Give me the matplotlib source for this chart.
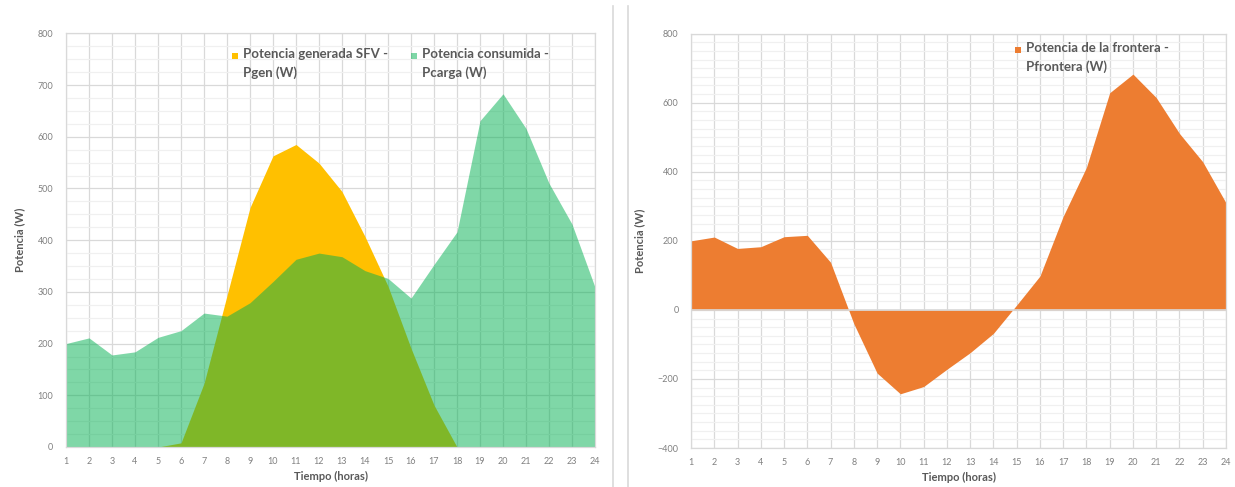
import matplotlib
matplotlib.use("Agg")
import matplotlib.pyplot as plt
from matplotlib.patches import Rectangle
from matplotlib.lines import Line2D
from matplotlib.ticker import MultipleLocator

plt.rcParams['font.family'] = ['Lato', 'DejaVu Sans']

horas = list(range(1, 25))
p_gen = [0, 0, 0, 0, 0, 8, 123, 293, 463, 563, 585, 549, 494, 407, 311, 191, 81, 0,
         0, 0, 0, 0, 0, 0]
p_carga = [200, 211, 178, 184, 212, 225, 259, 253, 279, 320, 363, 375, 368, 341, 326,
           288, 353, 416, 631, 683, 616, 510, 431, 309]
p_frontera = [200, 211, 178, 183, 212, 216, 138, -40, -183, -243, -222, -172, -124,
              -68, 14, 98, 271, 413, 629, 683, 615, 511, 429, 310]

label_gen = "Potencia generada SFV -\nPgen (W)"
label_carga = "Potencia consumida -\nPcarga (W)"
label_front = "Potencia de la frontera -\nPfrontera (W)"
xlabel = "Tiempo (horas)"
ylabel = "Potencia (W)"

C_GEN = "#FFC000"
C_CARGA = "#00B050"
C_FRONT = "#ED7D31"
GRID = "#D9D9D9"
MINOR = "#F0F0F0"
TICK = "#808080"
TXT = "#595959"

W, H = 1235, 487
fig = plt.figure(figsize=(W / 100, H / 100), dpi=100)


def style(ax, ylo, yhi, ylabelpad):
    ax.set_xlim(1, 24)
    ax.set_ylim(ylo, yhi)
    ax.set_xticks(horas)
    ax.yaxis.set_major_locator(MultipleLocator(100 if yhi - ylo <= 800 else 200))
    ax.yaxis.set_minor_locator(MultipleLocator(25))
    ax.set_axisbelow(True)
    ax.grid(True, which='major', axis='both', color=GRID, lw=0.9)
    ax.grid(True, which='minor', axis='y', color=MINOR, lw=0.9)
    for s in ax.spines.values():
        s.set_color(GRID)
        s.set_linewidth(0.9)
    ax.tick_params(which='both', length=0, colors=TICK, labelsize=6.5)
    ax.tick_params(axis='y', pad=9)
    ax.tick_params(axis='x', pad=7)
    ax.set_xlabel(xlabel, fontsize=8, fontweight='bold', color=TXT, labelpad=4)
    ax.set_ylabel(ylabel, fontsize=8, fontweight='bold', color=TXT, labelpad=ylabelpad)


def legend_entry(xpx, ypx, color, text, alpha=1.0):
    # xpx, ypx: figure pixel positions (from top-left) of square left / first line centre
    fx = xpx / W
    fy = 1 - ypx / H
    fig.add_artist(Rectangle((fx, fy - 3 / H), 6 / W, 6 / H, transform=fig.transFigure,
                             facecolor=color, alpha=alpha, edgecolor='none'))
    fig.text(fx + 11 / W, fy + 8.5 / H, text, ha='left', va='top', fontsize=9.5,
             fontweight='bold', color=TXT, linespacing=1.6)


# Left chart
ax1 = fig.add_axes([66 / W, 40 / H, 529 / W, 413.7 / H])
style(ax1, 0, 800, 9)
ax1.fill_between(horas, 0, p_gen, color=C_GEN, lw=0)
ax1.fill_between(horas, 0, p_carga, color=C_CARGA, alpha=0.5, lw=0)
legend_entry(232, 56, C_GEN, label_gen)
legend_entry(411, 56, C_CARGA, label_carga, alpha=0.5)

# Right chart
ax2 = fig.add_axes([691 / W, 39 / H, 535 / W, 414.3 / H])
style(ax2, -400, 800, 9)
ax2.fill_between(horas, 0, p_frontera, color=C_FRONT, lw=0)
ax2.axhline(0, color=GRID, lw=1.2, zorder=3)
legend_entry(1015, 50, C_FRONT, label_front)

# panel borders
for xp in (613, 628):
    fig.add_artist(Line2D([xp / W, xp / W], [0, 1 - 6 / H], transform=fig.transFigure,
                          color=GRID, lw=1.2))

fig.savefig("out.png", dpi=100)
